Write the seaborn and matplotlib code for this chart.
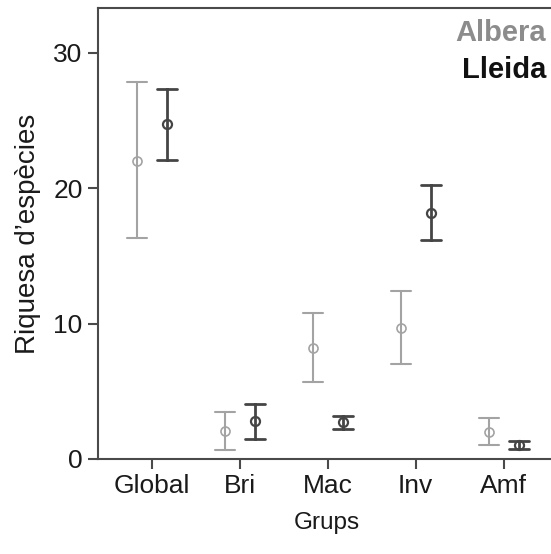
import matplotlib
matplotlib.use("Agg")
import matplotlib.pyplot as plt
import seaborn as sns
import pandas as pd

# ---- data ----
groups = ["Global", "Bri", "Mac", "Inv", "Amf"]
zones = ["Albera", "Lleida"]
albera_mean = [22.0, 2.1, 8.2, 9.7, 2.0]
albera_low = [16.3, 0.7, 5.7, 7.0, 1.0]
albera_high = [27.8, 3.5, 10.75, 12.4, 3.0]
lleida_mean = [24.7, 2.8, 2.7, 18.2, 1.0]
lleida_low = [22.1, 1.5, 2.25, 16.15, 0.72]
lleida_high = [27.3, 4.05, 3.2, 20.25, 1.3]
yticks = [0, 10, 20, 30]

rows = []
for zone, m, lo, hi in [("Albera", albera_mean, albera_low, albera_high),
                        ("Lleida", lleida_mean, lleida_low, lleida_high)]:
    for g, a, b, c in zip(groups, m, lo, hi):
        for v in (b, a, c):
            rows.append({"Grups": g, "zona": zone, "val": v})
df = pd.DataFrame(rows)

sns.set_theme(style="ticks")
plt.rcParams["font.family"] = ["Liberation Sans", "DejaVu Sans"]

colors = {"Albera": "#a3a3a3", "Lleida": "#454545"}
lw = {"Albera": 1.5, "Lleida": 2.0}

fig = plt.figure(figsize=(5.51, 5.54), dpi=100)
ax = fig.add_axes([98 / 551, 1 - 459 / 554, 1.0 - 98 / 551 + 0.01, (459 - 8) / 554])

for z in zones:
    sub = df[df["zona"] == z]
    sns.pointplot(data=sub, x="Grups", y="val", hue="zona", hue_order=zones,
                  order=groups, palette=colors, estimator="median",
                  errorbar=("pi", 100), dodge=0.34, capsize=0.23,
                  linestyle="none", marker="o", markersize=6.5,
                  markerfacecolor="none", markeredgewidth=lw[z] * 0.8,
                  err_kws={"linewidth": lw[z]}, legend=False, ax=ax)

ax.set_xlim(-0.61, 4.6)
ax.set_ylim(0, 33.3)
ax.set_yticks(yticks)
ax.set_yticklabels([str(t) for t in yticks])

for s in ["left", "bottom", "top"]:
    ax.spines[s].set_color("#4a4a4a")
    ax.spines[s].set_linewidth(1.5)
ax.spines["right"].set_visible(False)
ax.tick_params(axis="both", direction="out", length=7, width=1.5, color="#4a4a4a",
               labelsize=19, labelcolor="#1a1a1a", pad=4)

ax.set_xlabel("Grups", fontsize=17.5, color="#1a1a1a", labelpad=10)
ax.set_ylabel("Riquesa d\u2019espècies", fontsize=20, color="#1a1a1a", labelpad=9)

fig.text(546 / 551, 1 - 33 / 554, "Albera", ha="right", va="center",
         fontsize=21, fontweight="bold", color="#8c8c8c")
fig.text(546 / 551, 1 - 70 / 554, "Lleida", ha="right", va="center",
         fontsize=21, fontweight="bold", color="#111111")

fig.savefig("out.png", dpi=100)
